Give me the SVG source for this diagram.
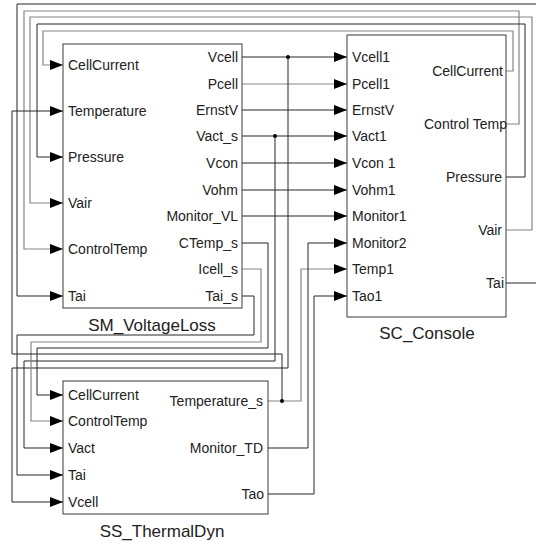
<svg xmlns="http://www.w3.org/2000/svg" width="536" height="544" viewBox="0 0 536 544">
<defs>
<style>
.blk{fill:#fff;stroke:#3a3a3a;stroke-width:1}
.w{fill:none;stroke:#262626;stroke-width:1}
.g{fill:none;stroke:#858585;stroke-width:1.2}
.t{font-family:"Liberation Sans",Arial,sans-serif;font-size:14px;fill:#222}
.e{text-anchor:end}
.title{font-family:"Liberation Sans",Arial,sans-serif;font-size:17px;fill:#222;text-anchor:middle}
.ah{fill:#000}
.dot{fill:#000}
</style>
<marker id="arr" markerWidth="13" markerHeight="10" refX="13" refY="5" orient="auto" markerUnits="userSpaceOnUse">
<path d="M0,0 L13,5 L0,10 Z" fill="#000"/>
</marker>
</defs>
<rect width="536" height="544" fill="#fff"/>

<g id="connectors">
<!-- SC outputs back to SM inputs -->
<polyline class="w" points="506,283 536,283"/>
<polyline class="w" points="536,4 17,4 17,296 63,296" marker-end="url(#arr)"/>
<polyline class="g" points="506,124 519,124 519,11 24,11 24,249 63,249" marker-end="url(#arr)"/>
<polyline class="g" points="506,230 532,230 532,17 30,17 30,203 63,203" marker-end="url(#arr)"/>
<polyline class="w" points="506,177 525,177 525,24 37,24 37,157 63,157" marker-end="url(#arr)"/>
<polyline class="g" points="506,71 513,71 513,31 43,31 43,65 63,65" marker-end="url(#arr)"/>
<!-- SM outputs to SC inputs -->
<polyline class="w" points="242,57 347,57" marker-end="url(#arr)"/>
<polyline class="g" points="242,84 347,84" marker-end="url(#arr)"/>
<polyline class="w" points="242,110 347,110" marker-end="url(#arr)"/>
<polyline class="w" points="242,136 347,136" marker-end="url(#arr)"/>
<polyline class="w" points="242,163 347,163" marker-end="url(#arr)"/>
<polyline class="w" points="242,190 347,190" marker-end="url(#arr)"/>
<polyline class="w" points="242,216 347,216" marker-end="url(#arr)"/>
<!-- branches to SS_ThermalDyn -->
<polyline class="w" points="288,57 288,368 12,368 12,502 63,502" marker-end="url(#arr)"/>
<polyline class="w" points="275,136 275,361 24,361 24,448 63,448" marker-end="url(#arr)"/>
<polyline class="w" points="242,296 254,296 254,335 17,335 17,475 63,475" marker-end="url(#arr)"/>
<polyline class="g" points="242,269 261,269 261,342 31,342 31,421 63,421" marker-end="url(#arr)"/>
<polyline class="w" points="242,243 268,243 268,348 37,348 37,395 63,395" marker-end="url(#arr)"/>
<!-- SS outputs -->
<polyline class="g" points="268,401 301,401 301,269 347,269" marker-end="url(#arr)"/>
<polyline class="w" points="282,401 282,354 12,354 12,111 63,111" marker-end="url(#arr)"/>
<polyline class="w" points="268,448 308,448 308,243 347,243" marker-end="url(#arr)"/>
<polyline class="w" points="268,494 314,494 314,296 347,296" marker-end="url(#arr)"/>
<circle class="dot" cx="288" cy="57" r="2"/>
<circle class="dot" cx="275" cy="136" r="2"/>
<circle class="dot" cx="282" cy="401" r="2"/>
</g>

<g id="SM_VoltageLoss">
<rect class="blk" x="63" y="44" width="179" height="264"/>
<text class="t" x="68" y="70">CellCurrent</text>
<text class="t" x="68" y="116">Temperature</text>
<text class="t" x="68" y="162">Pressure</text>
<text class="t" x="68" y="208">Vair</text>
<text class="t" x="68" y="254">ControlTemp</text>
<text class="t" x="68" y="301">Tai</text>
<text class="t e" x="238" y="62">Vcell</text>
<text class="t e" x="238" y="89">Pcell</text>
<text class="t e" x="238" y="115">ErnstV</text>
<text class="t e" x="238" y="141">Vact_s</text>
<text class="t e" x="238" y="168">Vcon</text>
<text class="t e" x="238" y="195">Vohm</text>
<text class="t e" x="238" y="221">Monitor_VL</text>
<text class="t e" x="238" y="248">CTemp_s</text>
<text class="t e" x="238" y="274">Icell_s</text>
<text class="t e" x="238" y="301">Tai_s</text>
<text class="title" x="152" y="331">SM_VoltageLoss</text>
</g>

<g id="SC_Console">
<rect class="blk" x="347" y="35" width="159" height="282"/>
<text class="t" x="352" y="62">Vcell1</text>
<text class="t" x="352" y="89">Pcell1</text>
<text class="t" x="352" y="115">ErnstV</text>
<text class="t" x="352" y="141">Vact1</text>
<text class="t" x="352" y="168">Vcon 1</text>
<text class="t" x="352" y="195">Vohm1</text>
<text class="t" x="352" y="221">Monitor1</text>
<text class="t" x="352" y="248">Monitor2</text>
<text class="t" x="352" y="274">Temp1</text>
<text class="t" x="352" y="301">Tao1</text>
<text class="t e" x="503" y="76">CellCurrent</text>
<text class="t e" x="507" y="129">Control Temp</text>
<text class="t e" x="502" y="182">Pressure</text>
<text class="t e" x="502" y="235">Vair</text>
<text class="t e" x="504" y="288">Tai</text>
<text class="title" x="427" y="339">SC_Console</text>
</g>

<g id="SS_ThermalDyn">
<rect class="blk" x="63" y="381" width="205" height="133"/>
<text class="t" x="68" y="400">CellCurrent</text>
<text class="t" x="68" y="426">ControlTemp</text>
<text class="t" x="68" y="453">Vact</text>
<text class="t" x="68" y="480">Tai</text>
<text class="t" x="68" y="507">Vcell</text>
<text class="t e" x="263" y="406">Temperature_s</text>
<text class="t e" x="263" y="453">Monitor_TD</text>
<text class="t e" x="264" y="499">Tao</text>
<text class="title" x="162" y="537">SS_ThermalDyn</text>
</g>
</svg>
